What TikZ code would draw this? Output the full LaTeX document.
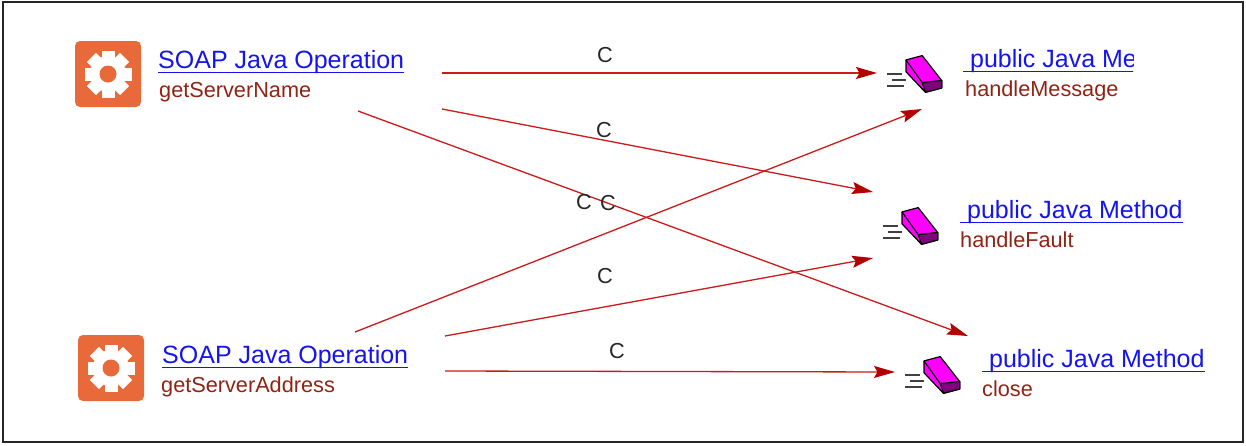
\documentclass[tikz,border=0pt]{standalone}
\usepackage{fontspec}
\setmainfont{Liberation Sans}
\usetikzlibrary{arrows.meta,calc}
\definecolor{gearorange}{RGB}{232,105,58}
\definecolor{linkblue}{RGB}{20,20,240}
\definecolor{subred}{RGB}{145,35,20}
\definecolor{edgered}{RGB}{205,25,25}
\definecolor{headred}{RGB}{180,0,0}
\definecolor{boxmag}{RGB}{255,0,255}
\definecolor{boxpurple}{RGB}{128,0,128}
\tikzset{
  titletext/.style={anchor=base west, inner sep=0pt, text=linkblue, font=\fontsize{25}{30}\selectfont},
  subtext/.style={anchor=base west, inner sep=0pt, text=subred, font=\fontsize{21.7}{26}\selectfont},
  clabel/.style={inner sep=0pt, text=black!85, font=\fontsize{21.7}{26}\selectfont},
  uline/.style={draw=linkblue, line width=1.3pt},
  conn/.style={draw=edgered, line width=1.3pt, -{Stealth[length=21pt,width=12pt,inset=3.5pt,color=headred]}},
  speedline/.style={draw=black!75, line width=1.2pt},
}
\newcommand\gearicon[1]{%
  \begin{scope}[shift={(#1)}]
    \fill[gearorange, rounded corners=5pt] (-33,-33) rectangle (33,33);
    \fill[white] (0,0) circle (18);
    \foreach \a in {0,45,...,315}
      \fill[white, rotate=\a] (-6.5,0) rectangle (6.5,23.5);
    \fill[gearorange] (0,0) circle (8.5);
  \end{scope}}
\newcommand\erasericon[1]{%
  \begin{scope}[shift={(#1)}]
    \draw[speedline] (-19,13) -- (-4,13);
    \draw[speedline] (-14,19) -- (0,19);
    \draw[speedline] (-19,25) -- (-2,25);
    \begin{scope}[scale=1.08]
    \filldraw[draw=black, fill=boxmag, line width=1.2pt, line join=round]
      (0,-1) -- (15,-5) -- (33,18) -- (33,25) -- (18,29) -- (0,10) -- cycle;
    \filldraw[draw=black, fill=boxpurple, line width=1.2pt, line join=round]
      (15,20) -- (33,18) -- (33,25) -- (18,29) -- cycle;
    \draw[black, line width=1.2pt] (0,-1) -- (15,20);
    \end{scope}
  \end{scope}}
\begin{document}
\begin{tikzpicture}[x=1pt, y=-1pt]
  \useasboundingbox (0,0) rectangle (1246,445);
  \draw[black!85, line width=2pt] (2.5,2) rectangle (1243,441.5);

  % gear icons
  \coordinate (g1) at (108,74);
  \coordinate (g2) at (111,368);
  \gearicon{g1}
  \gearicon{g2}

  % left texts
  \node[titletext] (t1) at (158,68) {SOAP Java Operation};
  \node[subtext] (s1) at (159,97) {getServerName};
  \node[titletext] (t2) at (162,363) {SOAP Java Operation};
  \node[subtext] (s2) at (161,392) {getServerAddress};
  \draw[uline] ($(t1.base west)+(0,4.5)$) -- ($(t1.base east)+(0,4.5)$);
  \draw[uline] ($(t2.base west)+(0,4.5)$) -- ($(t2.base east)+(0,4.5)$);

  % eraser icons
  \coordinate (e1) at (906,61);
  \coordinate (e2) at (902,213);
  \coordinate (e3) at (924,362);
  \erasericon{e1}
  \erasericon{e2}
  \erasericon{e3}

  % right texts
  \begin{scope}
    \clip (0,0) rectangle (1133,445);
    \node[titletext] (r1t) at (963,67) {\ public Java Method};
    \draw[uline] ($(r1t.base west)+(0,4.5)$) -- ($(r1t.base east)+(0,4.5)$);
  \end{scope}
  \node[subtext] (r1s) at (965,96) {handleMessage};
  \node[titletext] (r2t) at (960,218) {\ public Java Method};
  \draw[uline] ($(r2t.base west)+(0,4.5)$) -- ($(r2t.base east)+(0,4.5)$);
  \node[subtext] (r2s) at (960,247) {handleFault};
  \node[titletext] (r3t) at (982,367) {\ public Java Method};
  \draw[uline] ($(r3t.base west)+(0,4.5)$) -- ($(r3t.base east)+(0,4.5)$);
  \node[subtext] (r3s) at (982,396) {close};

  % connector end points
  \coordinate (a1s) at (442,73);  \coordinate (a1e) at (877,73);
  \coordinate (a2s) at (442,109); \coordinate (a2e) at (873,192);
  \coordinate (a3s) at (358,111); \coordinate (a3e) at (968,336);
  \coordinate (a4s) at (355,332); \coordinate (a4e) at (922,109);
  \coordinate (a5s) at (445,336); \coordinate (a5e) at (873,258);
  \coordinate (a6s) at (445,371); \coordinate (a6e) at (895,372);

  \draw[conn] (a1s) -- (a1e);
  \draw[conn] (a2s) -- (a2e);
  \draw[conn] (a3s) -- (a3e);
  \draw[conn] (a4s) -- (a4e);
  \draw[conn] (a5s) -- (a5e);
  \draw[conn] (a6s) -- (a6e);

  % labels
  \node[clabel] (c1) at (605,55) {C};
  \node[clabel] (c2) at (604,130) {C};
  \node[clabel] (c4) at (584,202) {C};
  \node[clabel] (c3) at (608,203) {C};
  \node[clabel] (c5) at (605,276) {C};
  \node[clabel] (c6) at (617,351) {C};
\end{tikzpicture}
\end{document}
